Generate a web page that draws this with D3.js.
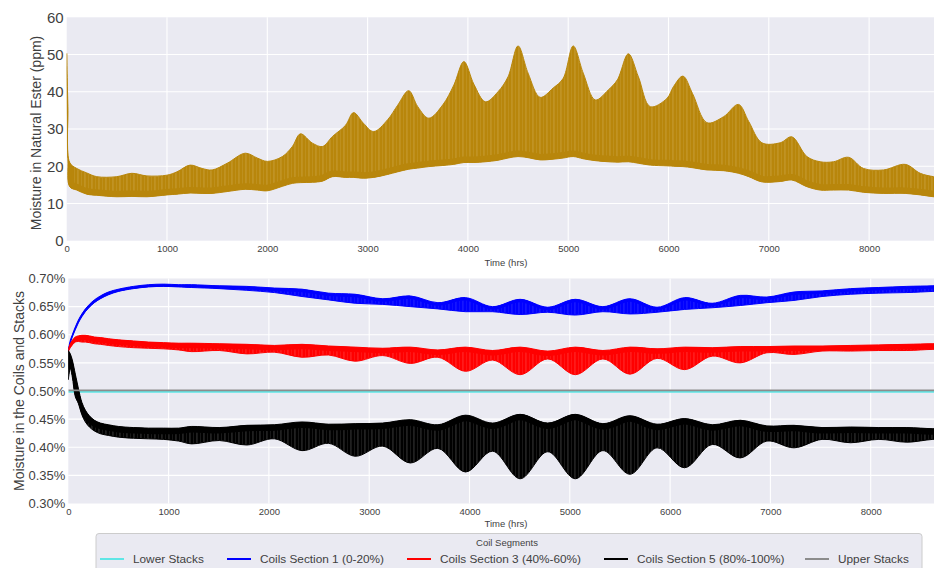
<!DOCTYPE html>
<html>
<head>
<meta charset="utf-8">
<script src="https://cdn.jsdelivr.net/npm/d3@7"></script>
<style>
  html, body { margin: 0; padding: 0; background: #ffffff; }
  svg { display: block; font-family: "Liberation Sans", Arial, Helvetica, sans-serif; }
</style>
</head>
<body>
<svg id="chart" width="934" height="568"></svg>
<script>
// ---------- Moisture in the natural ester (ppm): hourly swing envelope ----------
const esterHours = [0, 12, 30, 100, 200, 300, 500, 650, 800, 1000, 1100, 1230, 1350, 1450, 1600, 1780, 1900, 2000, 2150, 2250, 2330, 2450, 2550, 2650, 2780, 2860, 2960, 3060, 3200, 3300, 3410, 3500, 3610, 3750, 3860, 3960, 4060, 4175, 4300, 4400, 4500, 4600, 4720, 4850, 4950, 5050, 5150, 5270, 5400, 5490, 5600, 5700, 5818, 5984, 6050, 6144, 6240, 6383, 6549, 6698, 6800, 6931, 7114, 7230, 7380, 7512, 7645, 7795, 7944, 8143, 8360, 8510, 8642, 8760];
const esterHigh  = [50.3, 36, 21, 19.4, 18.2, 17.2, 17.2, 18.1, 17.4, 17.6, 18.5, 20.3, 19.4, 19.0, 20.8, 23.5, 22.2, 21.3, 22.6, 25.3, 28.7, 26.2, 25.3, 28.0, 31.0, 34.4, 31.5, 29.3, 32.5, 36.4, 40.3, 36.0, 32.9, 36.5, 41.8, 48.1, 42.0, 37.3, 40.0, 44.0, 52.3, 45.0, 38.5, 41.0, 43.6, 52.3, 45.0, 37.8, 40.5, 43.2, 50.2, 44.0, 36.0, 38.2, 41.4, 44.2, 39.5, 31.7, 33.3, 36.6, 32.0, 26.3, 26.3, 27.9, 22.6, 21.2, 21.2, 22.4, 19.4, 19.0, 20.5, 18.1, 17.2, 16.8];
const esterLow   = [47, 22, 14.5, 13.6, 12.5, 12.2, 11.8, 11.9, 11.8, 12.3, 12.5, 12.8, 12.7, 12.7, 13.2, 13.8, 13.6, 13.4, 14.6, 15.4, 15.6, 15.7, 16.0, 17.2, 17.0, 17.0, 16.8, 17.0, 17.8, 18.5, 19.2, 19.5, 19.9, 20.2, 20.5, 21.0, 21.0, 21.2, 21.6, 22.2, 22.6, 22.3, 21.7, 21.9, 22.2, 22.6, 22.0, 21.5, 21.2, 21.1, 21.2, 20.8, 20.3, 20.1, 20.0, 19.9, 19.6, 19.0, 18.8, 18.1, 17.2, 15.8, 15.9, 16.3, 14.5, 13.6, 13.6, 13.6, 13.0, 12.7, 12.7, 12.3, 11.8, 11.6];
const esterTicks = [0, 10, 20, 30, 40, 50, 60];

// ---------- Moisture in coil sections and stacks (%): swing envelopes ----------
const coilHours = [0, 20, 40, 70, 100, 135, 170, 210, 260, 320, 400, 500, 650, 800, 950, 1100, 1230, 1505, 1780, 2055, 2330, 2595, 2860, 3135, 3410, 3685, 3960, 4230, 4505, 4780, 5055, 5330, 5600, 5870, 6145, 6420, 6700, 6965, 7235, 7515, 7800, 8080, 8360, 8620, 8760];
const section1High = [0.575, 0.590, 0.600, 0.614, 0.626, 0.637, 0.646, 0.654, 0.662, 0.669, 0.676, 0.681, 0.686, 0.689, 0.690, 0.689, 0.689, 0.687, 0.686, 0.683, 0.681, 0.674, 0.672, 0.664, 0.669, 0.657, 0.666, 0.650, 0.663, 0.649, 0.663, 0.650, 0.664, 0.649, 0.666, 0.656, 0.670, 0.667, 0.676, 0.678, 0.682, 0.684, 0.686, 0.687, 0.688];
const section1Low  = [0.571, 0.585, 0.596, 0.609, 0.621, 0.632, 0.641, 0.649, 0.657, 0.664, 0.671, 0.677, 0.682, 0.685, 0.686, 0.685, 0.684, 0.682, 0.679, 0.675, 0.668, 0.662, 0.656, 0.654, 0.650, 0.646, 0.641, 0.641, 0.636, 0.640, 0.635, 0.641, 0.637, 0.640, 0.645, 0.648, 0.652, 0.657, 0.661, 0.668, 0.672, 0.674, 0.675, 0.677, 0.678];
const section3High = [0.575, 0.584, 0.590, 0.596, 0.598, 0.599, 0.599, 0.598, 0.596, 0.595, 0.593, 0.591, 0.589, 0.587, 0.586, 0.585, 0.585, 0.584, 0.583, 0.581, 0.583, 0.580, 0.578, 0.576, 0.578, 0.573, 0.578, 0.572, 0.578, 0.571, 0.578, 0.572, 0.578, 0.575, 0.578, 0.577, 0.579, 0.579, 0.580, 0.580, 0.581, 0.582, 0.583, 0.584, 0.584];
const section3Low  = [0.570, 0.577, 0.582, 0.587, 0.588, 0.587, 0.587, 0.586, 0.584, 0.583, 0.581, 0.579, 0.577, 0.576, 0.575, 0.573, 0.570, 0.572, 0.566, 0.569, 0.560, 0.564, 0.553, 0.563, 0.549, 0.560, 0.535, 0.555, 0.529, 0.557, 0.529, 0.557, 0.530, 0.558, 0.538, 0.562, 0.550, 0.568, 0.565, 0.571, 0.571, 0.572, 0.572, 0.574, 0.574];
const section5High = [0.572, 0.566, 0.555, 0.530, 0.505, 0.480, 0.466, 0.456, 0.448, 0.443, 0.440, 0.437, 0.435, 0.434, 0.434, 0.434, 0.437, 0.435, 0.439, 0.440, 0.445, 0.441, 0.442, 0.443, 0.449, 0.440, 0.457, 0.443, 0.4585, 0.443, 0.4585, 0.442, 0.456, 0.441, 0.451, 0.440, 0.448, 0.438, 0.439, 0.435, 0.436, 0.435, 0.435, 0.433, 0.433];
const section5Low  = [0.520, 0.540, 0.525, 0.490, 0.478, 0.458, 0.445, 0.436, 0.429, 0.424, 0.421, 0.418, 0.416, 0.415, 0.414, 0.411, 0.406, 0.412, 0.404, 0.415, 0.394, 0.407, 0.384, 0.402, 0.372, 0.398, 0.356, 0.393, 0.344, 0.392, 0.344, 0.394, 0.352, 0.399, 0.3635, 0.405, 0.381, 0.411, 0.399, 0.414, 0.408, 0.414, 0.409, 0.414, 0.414];
const stackHours  = [0, 8760];
const lowerStacks = [0.4985, 0.4985];
const upperStacks = [0.5012, 0.5012];
const coilTicks = [0.30, 0.35, 0.40, 0.45, 0.50, 0.55, 0.60, 0.65, 0.70];

const hourTicks = [0, 1000, 2000, 3000, 4000, 5000, 6000, 7000, 8000];
const legendLabels = ["Lower Stacks", "Coils Section 1 (0-20%)", "Coils Section 3 (40%-60%)", "Coils Section 5 (80%-100%)", "Upper Stacks"];
const legendColors = ["#5fe6e6", "#0000ff", "#ff0000", "#000000", "#8c8c8c"];

// ---------- layout ----------
const svg = d3.select("#chart");
const W = 934;
const esterBox = { x0: 66.7, y0: 17.3, y1: 240.7 };
const coilBox = { x0: 68.3, y0: 278.5, y1: 503.5 };
const pxPerHour = 0.1003;
const bgColor = "#eaeaf2";
const textColor = "#3f3f3f";

const xTop = d3.scaleLinear().domain([0, 8760]).range([esterBox.x0, esterBox.x0 + 8760 * pxPerHour]);
const yTop = d3.scaleLinear().domain([0, 60]).range([esterBox.y1, esterBox.y0]);
const xBot = d3.scaleLinear().domain([0, 8760]).range([coilBox.x0, coilBox.x0 + 8760 * pxPerHour]);
const yBot = d3.scaleLinear().domain([0.30, 0.70]).range([coilBox.y1, coilBox.y0]);

const defs = svg.append("defs");
const smooth = d3.curveCatmullRom.alpha(0.5);

function panel(p, x, y, yTicks, yFmt, yFont, id) {
  svg.append("rect").attr("x", p.x0).attr("y", p.y0)
    .attr("width", W - p.x0).attr("height", p.y1 - p.y0).attr("fill", bgColor);
  defs.append("clipPath").attr("id", id)
    .append("rect").attr("x", p.x0).attr("y", p.y0 - 2)
    .attr("width", W - p.x0).attr("height", p.y1 - p.y0 + 2);
  // white grid
  const g = svg.append("g");
  g.selectAll("line.gy").data(yTicks.slice(1, -1)).join("line")
    .attr("x1", p.x0).attr("x2", W).attr("y1", d => y(d)).attr("y2", d => y(d))
    .attr("stroke", "#ffffff").attr("stroke-width", 1.1);
  g.selectAll("line.gx").data(hourTicks.slice(1)).join("line")
    .attr("x1", d => x(d)).attr("x2", d => x(d)).attr("y1", p.y0).attr("y2", p.y1)
    .attr("stroke", "#ffffff").attr("stroke-width", 1.1);
  // axes (labels only)
  const ax = svg.append("g").attr("transform", `translate(0,${p.y1})`)
    .call(d3.axisBottom(x).tickValues(hourTicks).tickSize(0).tickPadding(4.5).tickFormat(d3.format("d")));
  ax.select(".domain").remove();
  ax.selectAll("text").attr("fill", textColor).attr("font-size", "9.5px")
    .attr("font-family", "'Liberation Sans', Arial, sans-serif");
  const ay = svg.append("g").attr("transform", `translate(${p.x0},0)`)
    .call(d3.axisLeft(y).tickValues(yTicks).tickSize(0).tickPadding(3).tickFormat(yFmt));
  ay.select(".domain").remove();
  ay.selectAll("text").attr("fill", textColor).attr("font-size", yFont)
    .attr("font-family", "'Liberation Sans', Arial, sans-serif");
  return svg.append("g").attr("clip-path", `url(#${id})`);
}

function stripes(id, color, light, alpha) {
  const pat = defs.append("pattern").attr("id", id)
    .attr("patternUnits", "userSpaceOnUse").attr("width", 7).attr("height", 20);
  pat.append("rect").attr("width", 7).attr("height", 20).attr("fill", color);
  pat.append("rect").attr("x", 0.6).attr("width", 0.7).attr("height", 20).attr("fill", light).attr("opacity", alpha);
  pat.append("rect").attr("x", 4.1).attr("width", 0.5).attr("height", 20).attr("fill", light).attr("opacity", alpha * 0.6);
}

// A band of fast swings: lightly streaked fill between the low and high envelopes,
// a denser solid core along one edge, and a crisp outline.
function band(layer, x, y, hours, hi, lo, color, patId, denseEdge, coreWidth, clipId) {
  const rows = hours.map((h, i) => ({ h, hi: hi[i], lo: lo[i] }));
  const area = d3.area().x(d => x(d.h)).y0(d => y(d.lo)).y1(d => y(d.hi)).curve(smooth);
  const edge = d3.line().x(d => x(d.h)).y(d => y(denseEdge === "hi" ? d.hi : d.lo)).curve(smooth);
  defs.append("clipPath").attr("id", clipId).append("path").attr("d", area(rows));
  layer.append("path").attr("d", area(rows)).attr("fill", `url(#${patId})`);
  layer.append("path").attr("d", edge(rows)).attr("fill", "none")
    .attr("stroke", color).attr("stroke-width", coreWidth).attr("clip-path", `url(#${clipId})`);
  layer.append("path").attr("d", area(rows)).attr("fill", "none")
    .attr("stroke", color).attr("stroke-width", 1).attr("stroke-linejoin", "round");
}

// ---------- upper panel ----------
const topLayer = panel(esterBox, xTop, yTop, esterTicks, d3.format("d"), "15px", "clipTop");
stripes("patGold", "#b8860b", "#f0e2b6", 0.35);
band(topLayer, xTop, yTop, esterHours, esterHigh, esterLow, "#b8860b", "patGold", "lo", 12, "clipGold");

svg.append("text").attr("transform", "translate(40.5,133) rotate(-90)")
  .attr("text-anchor", "middle").attr("font-size", "14px").attr("fill", textColor)
  .text("Moisture in Natural Ester (ppm)");
svg.append("text").attr("x", 506).attr("y", 266).attr("text-anchor", "middle")
  .attr("font-size", "9.5px").attr("fill", textColor).text("Time (hrs)");

// ---------- lower panel ----------
const pct = d => d3.format(".2f")(d) + "%";
const botLayer = panel(coilBox, xBot, yBot, coilTicks, pct, "13px", "clipBot");
stripes("patBlue", "#0000ff", "#b0b0ff", 0.3);
stripes("patRed", "#ff0000", "#ffc0c0", 0.35);
stripes("patBlack", "#000000", "#c8c8c8", 0.4);

const stackLine = d3.line().x(d => xBot(d.h)).y(d => yBot(d.v));
botLayer.append("path")
  .attr("d", stackLine(stackHours.map((h, i) => ({ h, v: lowerStacks[i] }))))
  .attr("fill", "none").attr("stroke", legendColors[0]).attr("stroke-width", 1.6);
band(botLayer, xBot, yBot, coilHours, section1High, section1Low, "#0000ff", "patBlue", "hi", 6, "clipS1");
band(botLayer, xBot, yBot, coilHours, section3High, section3Low, "#ff0000", "patRed", "hi", 10, "clipS3");
band(botLayer, xBot, yBot, coilHours, section5High, section5Low, "#000000", "patBlack", "hi", 12, "clipS5");
botLayer.append("path")
  .attr("d", stackLine(stackHours.map((h, i) => ({ h, v: upperStacks[i] }))))
  .attr("fill", "none").attr("stroke", legendColors[4]).attr("stroke-width", 1.6);

svg.append("text").attr("transform", "translate(23.5,391) rotate(-90)")
  .attr("text-anchor", "middle").attr("font-size", "14px").attr("fill", textColor)
  .text("Moisture in the Coils and Stacks");
svg.append("text").attr("x", 506).attr("y", 527).attr("text-anchor", "middle")
  .attr("font-size", "9.5px").attr("fill", textColor).text("Time (hrs)");

// ---------- legend ----------
const legendX = [100, 227, 407, 604, 805];
const lg = svg.append("g");
lg.append("rect").attr("x", 96).attr("y", 533.5).attr("width", 826).attr("height", 44).attr("rx", 3)
  .attr("fill", bgColor).attr("stroke", "#cccccc").attr("stroke-width", 1);
lg.append("text").attr("x", 507).attr("y", 545.5).attr("text-anchor", "middle")
  .attr("font-size", "9.5px").attr("fill", textColor).text("Coil Segments");
legendLabels.forEach((label, i) => {
  const lx = legendX[i];
  lg.append("line").attr("x1", lx).attr("x2", lx + 24).attr("y1", 559).attr("y2", 559)
    .attr("stroke", legendColors[i]).attr("stroke-width", 2);
  lg.append("text").attr("x", lx + 33).attr("y", 563.3)
    .attr("font-size", "11.8px").attr("fill", textColor).text(label);
});
</script>
</body>
</html>
